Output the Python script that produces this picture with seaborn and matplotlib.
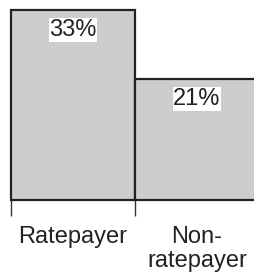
import matplotlib
matplotlib.use("Agg")
import matplotlib.pyplot as plt
import seaborn as sns
import pandas as pd

categories = ["Ratepayer", "Non-\nratepayer"]
values = [33, 21]
labels = ["33%", "21%"]

sns.set_style("white")
plt.rcParams['font.family'] = ['Liberation Sans', 'DejaVu Sans']

df = pd.DataFrame({"cat": categories, "val": values})

fig = plt.figure(figsize=(2.55, 2.77), dpi=100)
ax = fig.add_axes([0, 77/277, 1, 200/277])
sns.barplot(data=df, x="cat", y="val", ax=ax, width=1.0, color="#cdcdcf",
            saturation=1, edgecolor="#222222", linewidth=1.6)
for p in ax.patches:
    p.set_clip_on(False)

for i, (v, t) in enumerate(zip(values, labels)):
    ax.annotate(t, (i, v), xytext=(0, -14.5), textcoords="offset points",
                ha="center", va="center", fontsize=17,
                color="#222222",
                bbox=dict(facecolor="white", edgecolor="none", pad=0.5))

ax.set_xlim(-0.5 - 11/124, -0.5 + 244/124)
ax.set_ylim(0, 200/5.76)
ax.set_yticks([])
ax.set_xlabel("")
ax.set_ylabel("")
for s in ax.spines.values():
    s.set_visible(False)
ax.set_xticks([0, 1])
ax.set_xticklabels(categories, fontsize=17, color="#222222", linespacing=1.1)
ax.tick_params(axis="x", which="major", length=0, pad=19)
ax.set_xticks([-0.5, 0.5], minor=True)
ax.tick_params(axis="x", which="minor", length=11.5, width=1, color="#333333",
               bottom=True)

fig.savefig("out.png", dpi=100)
